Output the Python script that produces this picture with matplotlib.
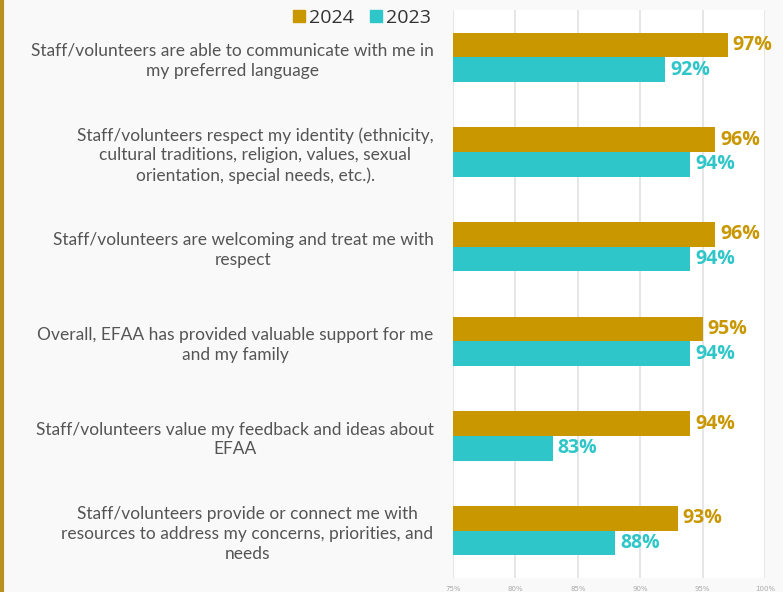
import numpy as np
import matplotlib.pyplot as plt
from matplotlib.lines import Line2D

questions = [
    "Staff/volunteers are able to communicate with me in\nmy preferred language",
    "Staff/volunteers respect my identity (ethnicity,\ncultural traditions, religion, values, sexual\norientation, special needs, etc.).",
    "Staff/volunteers are welcoming and treat me with\nrespect",
    "Overall, EFAA has provided valuable support for me\nand my family",
    "Staff/volunteers value my feedback and ideas about\nEFAA",
    "Staff/volunteers provide or connect me with\nresources to address my concerns, priorities, and\nneeds",
]
vals_2024 = [97, 96, 96, 95, 94, 93]
vals_2023 = [92, 94, 94, 94, 83, 88]
xticks = [75, 80, 85, 90, 95, 100]

gold = '#C99700'
teal = '#2EC6C8'

fig = plt.figure(figsize=(7.83, 5.92), dpi=100)
fig.patch.set_facecolor('#f9f9f9')
ax = fig.add_axes([453/783, 1 - 578/592, (765 - 453)/783, 568/592])
ax.set_facecolor('white')

y = np.arange(len(questions))
h = 0.26
ax.barh(y - h/2, vals_2024, height=h, color=gold, zorder=3)
ax.barh(y + h/2, vals_2023, height=h, color=teal, zorder=3)

for yi, v in zip(y, vals_2024):
    ax.text(v + 0.4, yi - h/2, f'{v}%', color=gold, fontsize=14, fontweight='bold',
            va='center', ha='left', family='Open Sans', clip_on=False)
for yi, v in zip(y, vals_2023):
    ax.text(v + 0.4, yi + h/2, f'{v}%', color=teal, fontsize=14, fontweight='bold',
            va='center', ha='left', family='Open Sans', clip_on=False)

ax.set_xlim(75, 100)
ax.set_ylim(5.5, -0.5)
ax.set_xticks(xticks)
ax.set_xticklabels([f'{t}%' for t in xticks], fontsize=5, color='#aaaaaa')
ax.set_yticks(y)
ax.set_yticklabels(questions, fontsize=12.5, color='#555555', family='Lato',
                   ha='right', multialignment='center', linespacing=1.3)
ax.tick_params(axis='both', length=0)
ax.tick_params(axis='y', pad=14)
ax.tick_params(axis='x', pad=6)
ax.grid(axis='x', color='#e2e2e2', lw=1.2, zorder=0)
for s in ax.spines.values():
    s.set_visible(False)

handles = [Line2D([], [], marker='s', ls='', color=gold, markersize=8),
           Line2D([], [], marker='s', ls='', color=teal, markersize=8)]
fig.legend(handles, ['2024', '2023'], loc='center', bbox_to_anchor=(360/783, 1 - 18/592),
           ncol=2, frameon=False, prop={'family': 'Open Sans', 'size': 14},
           handletextpad=0.05, columnspacing=0.6, handlelength=1.0, labelcolor='#333333')

# gold border on the left
fig.add_artist(Line2D([0.002, 0.002], [0, 1], color='#B8901F', lw=3, transform=fig.transFigure))

fig.savefig('out.png', dpi=100, facecolor=fig.get_facecolor())
